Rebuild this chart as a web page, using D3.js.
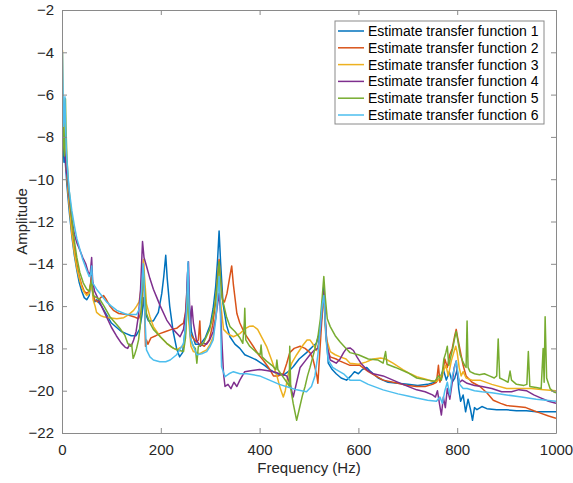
<!DOCTYPE html>
<html>
<head>
<meta charset="utf-8">
<script src="https://cdn.jsdelivr.net/npm/d3@7"></script>
<style>
  html, body { margin: 0; padding: 0; background: #fff; }
  svg { display: block; font-family: "Liberation Sans", Arial, Helvetica, sans-serif; }
</style>
</head>
<body>
<svg id="chart" width="573" height="483"></svg>
<script>
// Estimated transfer-function amplitude spectra, [frequency Hz, amplitude]
const series1 = [[1,-6.8],[2,-8.0],[4,-9.2],[5,-8.6],[7,-9.3],[10,-10.3],[15,-11.6],[20,-12.7],[25,-13.6],[30,-14.3],[35,-14.9],[40,-15.3],[45,-15.6],[50,-15.7],[55,-15.5],[58,-15.0],[60,-14.3],[62,-15.3],[66,-15.8],[70,-15.7],[80,-16.0],[90,-16.4],[100,-16.8],[110,-17.0],[120,-17.2],[130,-17.3],[140,-17.4],[150,-17.4],[157,-17.1],[162,-16.4],[165,-15.6],[168,-16.3],[175,-16.7],[185,-16.7],[195,-16.3],[202,-15.4],[206,-14.6],[210,-13.6],[213,-14.7],[218,-16.0],[225,-17.2],[232,-18.0],[238,-18.4],[244,-18.2],[250,-17.0],[253,-15.6],[255,-14.0],[257,-15.8],[262,-17.2],[270,-17.8],[280,-17.8],[290,-17.5],[300,-16.9],[306,-16.1],[311,-15.1],[315,-13.8],[318,-12.45],[321,-13.9],[326,-15.9],[333,-16.9],[340,-17.45],[350,-17.8],[360,-18.0],[370,-18.3],[380,-18.4],[394,-18.55],[410,-18.8],[421,-19.0],[435,-19.2],[448,-19.26],[458,-19.1],[468,-18.87],[480,-18.5],[495,-18.2],[508,-17.9],[515,-17.76],[522,-17.2],[527,-16.2],[530,-15.0],[533,-16.8],[539,-18.7],[547,-19.0],[555,-19.2],[565,-19.4],[576,-19.5],[585,-19.3],[592,-19.1],[600,-19.2],[608,-19.0],[617,-18.9],[625,-19.1],[640,-19.4],[660,-19.6],[680,-19.65],[700,-19.7],[720,-19.75],[740,-19.7],[755,-19.6],[765,-19.4],[772,-19.0],[778,-19.5],[784,-19.1],[790,-19.6],[795,-19.4],[800,-19.0],[803,-19.9],[807,-20.5],[812,-20.2],[817,-21.0],[822,-20.4],[827,-20.9],[831,-21.4],[835,-20.8],[840,-20.9],[850,-20.75],[860,-20.85],[880,-20.9],[900,-20.9],[920,-20.95],[940,-20.95],[960,-21.0],[980,-21.0],[1000,-21.0]];

const series2 = [[1,-6.3],[2,-7.5],[4,-8.5],[6,-8.2],[8,-9.2],[10,-9.9],[15,-11.2],[20,-12.4],[25,-13.3],[30,-14.0],[35,-14.6],[40,-15.0],[45,-15.3],[50,-15.4],[55,-15.3],[58,-14.9],[60,-14.6],[62,-15.3],[66,-15.7],[72,-15.8],[78,-15.6],[84,-15.5],[90,-15.7],[97,-16.0],[104,-16.2],[115,-16.35],[131,-16.4],[145,-16.5],[155,-16.6],[160,-16.3],[163,-15.2],[165,-14.0],[167,-15.8],[169,-17.9],[171,-17.6],[174,-17.8],[180,-17.5],[190,-17.4],[198,-17.3],[210,-17.2],[222,-17.1],[232,-17.05],[240,-16.9],[246,-16.8],[250,-16.3],[253,-15.3],[255,-14.6],[257,-16.2],[260,-17.3],[265,-17.5],[272,-17.7],[276,-17.6],[279,-16.7],[281,-17.8],[288,-17.9],[298,-17.6],[305,-16.9],[311,-15.8],[315,-14.6],[318,-13.8],[321,-14.8],[325,-15.7],[329,-15.8],[334,-15.4],[339,-14.7],[343.5,-14.1],[347,-15.0],[354,-16.35],[360,-16.8],[370,-17.3],[387,-17.9],[398,-18.3],[407,-18.55],[418,-18.9],[428,-19.3],[438,-19.3],[448,-19.2],[455,-18.7],[461,-18.2],[470,-18.0],[482,-17.9],[492,-18.0],[502,-18.2],[508,-18.5],[512,-18.9],[516,-19.3],[518,-19.65],[521,-18.5],[525,-17.0],[529,-15.6],[531,-15.9],[534,-17.4],[538,-18.1],[543,-18.4],[555,-18.5],[563,-18.6],[583,-18.8],[603,-18.8],[620,-19.1],[650,-19.5],[680,-19.65],[700,-19.75],[718,-19.8],[735,-19.8],[750,-19.7],[758,-19.6],[762,-18.8],[765,-19.6],[770,-19.3],[775,-18.5],[780,-18.9],[785,-18.3],[790,-18.0],[795,-17.4],[798,-17.1],[801,-17.5],[806,-18.1],[812,-18.8],[818,-19.3],[830,-19.6],[846,-19.8],[860,-20.1],[873,-20.45],[888,-20.6],[900,-20.7],[920,-20.75],[939,-20.8],[955,-20.95],[967,-21.05],[985,-21.2],[1000,-21.3]];

const series3 = [[1,-3.9],[2,-6.0],[3,-7.6],[5,-8.4],[7,-8.0],[9,-9.5],[12,-10.5],[15,-11.3],[20,-12.6],[25,-13.5],[30,-14.2],[35,-14.7],[40,-15.1],[45,-15.35],[50,-15.5],[55,-15.4],[58,-15.0],[60,-14.9],[63,-15.7],[67,-16.0],[70,-16.3],[78,-16.45],[84,-16.5],[95,-16.55],[111,-16.6],[125,-16.55],[135,-16.4],[145,-16.2],[151,-16.0],[156,-15.8],[160,-15.2],[163,-14.3],[165,-13.8],[167,-14.6],[171,-15.9],[178,-16.5],[185,-16.97],[199,-17.45],[212,-17.76],[222,-17.95],[232,-18.07],[240,-17.95],[246,-17.9],[250,-17.3],[253,-16.2],[255,-15.2],[257,-16.8],[261,-17.9],[266,-18.15],[272,-18.2],[279,-18.25],[286,-18.15],[293,-18.07],[300,-17.8],[306,-17.45],[311,-16.5],[315,-15.4],[318,-14.5],[321,-15.8],[327,-17.1],[335,-17.3],[347,-17.45],[360,-17.3],[372,-17.05],[380,-16.95],[387,-16.94],[396,-17.1],[405,-17.5],[414,-17.9],[425,-18.6],[435,-19.3],[442,-19.9],[448,-20.3],[452,-20.0],[458,-19.2],[465,-18.7],[475,-18.3],[488,-17.84],[496,-17.6],[502,-17.6],[508,-17.8],[515,-18.1],[520,-17.8],[525,-16.6],[529,-15.5],[532,-16.5],[536,-17.6],[543,-18.15],[553,-18.3],[563,-18.4],[575,-18.5],[583,-18.7],[600,-18.75],[615,-18.65],[630,-18.5],[645,-18.45],[655,-18.5],[670,-18.7],[690,-19.0],[705,-19.2],[718,-19.34],[735,-19.45],[750,-19.55],[760,-19.55],[770,-19.2],[777,-18.8],[782,-19.3],[788,-18.6],[793,-18.2],[797,-17.9],[800,-18.2],[804,-18.9],[808,-19.3],[812,-19.1],[818,-19.4],[830,-19.5],[846,-19.5],[870,-19.7],[900,-19.9],[925,-19.9],[950,-19.9],[975,-19.95],[1000,-20.0]];

const series4 = [[1,-7.0],[2,-7.6],[4,-8.5],[6,-8.8],[9,-9.6],[12,-10.2],[15,-10.9],[20,-11.9],[25,-12.6],[30,-13.0],[36,-13.35],[42,-13.7],[48,-14.0],[53,-14.4],[57,-14.5],[60,-13.7],[62,-14.8],[66,-15.3],[72,-15.6],[80,-16.0],[90,-16.5],[100,-17.0],[110,-17.4],[120,-17.75],[128,-17.95],[133,-18.0],[137,-17.8],[140,-17.9],[145,-17.6],[150,-17.2],[155,-16.4],[159,-15.2],[163,-12.95],[166,-13.7],[171,-14.1],[178,-14.7],[185,-15.2],[192,-15.6],[199,-16.0],[212,-16.66],[225,-17.1],[239,-17.45],[246,-17.1],[251,-16.2],[254,-14.5],[256,-13.9],[258,-15.8],[260,-17.0],[263,-16.0],[266,-16.8],[272,-17.6],[280,-17.9],[286,-17.76],[293,-17.8],[299,-17.6],[306,-17.2],[311,-16.6],[315,-15.9],[318,-15.4],[321,-16.3],[324,-17.8],[327,-19.2],[330,-19.8],[336,-19.7],[342,-19.9],[348,-19.6],[354,-19.8],[360,-19.5],[370,-19.1],[385,-19.05],[400,-19.0],[414,-19.05],[428,-19.1],[441,-19.2],[455,-19.3],[462,-19.7],[468,-20.3],[473,-19.8],[482,-18.9],[492,-18.6],[502,-18.3],[510,-18.1],[518,-18.0],[524,-17.0],[528,-15.8],[530,-15.3],[532,-16.2],[536,-17.8],[543,-18.55],[555,-18.7],[563,-18.5],[570,-18.2],[576,-18.0],[583,-17.98],[590,-18.1],[597,-18.4],[605,-18.7],[617,-19.0],[630,-19.2],[650,-19.3],[670,-19.5],[690,-19.7],[718,-19.96],[735,-20.05],[750,-20.2],[756,-20.3],[760,-20.0],[764,-20.6],[768,-21.15],[772,-20.3],[776,-20.8],[780,-19.9],[785,-20.4],[790,-19.6],[794,-18.9],[798,-18.6],[801,-19.3],[805,-19.6],[810,-19.5],[820,-19.65],[835,-19.75],[850,-19.8],[870,-19.9],[890,-20.05],[910,-20.05],[925,-19.95],[940,-20.0],[955,-20.2],[970,-20.35],[985,-20.5],[1000,-20.6]];

const series5 = [[1,-6.2],[2,-7.3],[3,-8.3],[5,-8.9],[7,-6.2],[8,-7.5],[10,-9.0],[13,-10.2],[16,-10.9],[20,-11.9],[25,-12.9],[30,-13.7],[36,-14.4],[43,-14.9],[50,-15.2],[55,-15.3],[58,-15.0],[60,-14.8],[63,-15.5],[70,-15.6],[77,-15.7],[85,-16.0],[97,-16.5],[108,-16.8],[117,-17.05],[127,-17.37],[133,-17.76],[138,-17.9],[141,-17.8],[144,-18.47],[147,-18.3],[151,-18.0],[155,-17.6],[158,-17.0],[161,-16.0],[163,-15.0],[165,-14.3],[167,-15.2],[171,-16.35],[178,-16.8],[185,-17.1],[199,-17.45],[212,-17.76],[226,-18.0],[238,-18.1],[246,-18.15],[250,-17.5],[253,-16.2],[255,-14.6],[257,-16.5],[261,-17.6],[266,-17.9],[270,-18.0],[273,-18.7],[276,-17.9],[286,-17.76],[299,-17.1],[304,-16.6],[309,-16.0],[314,-15.0],[318,-13.9],[321,-14.8],[324,-15.6],[327,-15.9],[333,-16.5],[340,-16.97],[350,-17.2],[360,-17.5],[366,-17.76],[369,-16.8],[370,-16.1],[372,-17.6],[380,-17.9],[394,-18.2],[401,-18.3],[403,-17.84],[405,-18.4],[414,-18.6],[425,-18.8],[433,-19.0],[435,-18.55],[437,-19.0],[446,-19.3],[455,-19.6],[460,-19.8],[461,-17.9],[463,-19.9],[468,-20.6],[475,-21.4],[480,-20.9],[487,-20.2],[492,-19.8],[497,-19.3],[502,-18.9],[510,-18.2],[518,-17.45],[523,-16.6],[527,-15.5],[530,-14.6],[533,-15.6],[537,-16.6],[543,-16.97],[553,-17.4],[563,-17.7],[575,-18.0],[583,-18.2],[600,-18.3],[620,-18.5],[640,-18.55],[650,-18.7],[655,-18.15],[658,-18.75],[675,-18.9],[700,-19.15],[718,-19.4],[740,-19.5],[755,-19.55],[762,-19.3],[768,-19.5],[773,-18.5],[777,-18.2],[780,-17.9],[783,-18.8],[787,-18.4],[791,-18.0],[795,-17.5],[798,-17.2],[801,-17.6],[806,-18.3],[811,-18.6],[815,-18.8],[818,-18.9],[820,-16.7],[822,-18.9],[826,-19.1],[835,-19.2],[845,-19.25],[855,-19.2],[865,-19.3],[875,-19.4],[880,-19.3],[883,-17.55],[886,-19.4],[895,-19.5],[903,-19.6],[907,-19.07],[910,-19.5],[920,-19.7],[935,-19.75],[941,-19.7],[944,-18.15],[947,-19.8],[960,-19.85],[970,-19.9],[974,-18.0],[976,-19.6],[978,-16.5],[981,-19.4],[988,-19.9],[995,-20.05],[1000,-20.1]];

const series6 = [[1,-4.0],[2,-5.5],[3,-7.5],[5,-7.0],[6,-6.1],[7,-7.3],[9,-8.8],[12,-9.8],[15,-10.6],[20,-11.5],[25,-12.2],[30,-12.8],[36,-13.3],[42,-13.8],[50,-14.3],[55,-14.6],[58,-14.5],[60,-14.1],[62,-14.9],[70,-15.2],[80,-15.5],[90,-15.8],[100,-16.0],[111,-16.2],[121,-16.3],[131,-16.4],[141,-16.4],[151,-16.4],[157,-16.1],[161,-15.3],[164,-14.0],[166,-14.7],[168,-16.6],[171,-18.07],[178,-18.4],[185,-18.55],[198,-18.63],[210,-18.63],[219,-18.55],[232,-18.3],[240,-18.0],[246,-17.76],[250,-17.0],[253,-15.8],[255,-13.9],[257,-15.9],[260,-17.5],[264,-17.8],[273,-18.3],[283,-18.25],[293,-18.15],[300,-17.9],[306,-17.6],[311,-16.7],[315,-15.6],[318,-14.6],[320,-15.6],[323,-18.87],[330,-19.34],[338,-19.2],[347,-19.1],[360,-19.2],[374,-19.2],[387,-19.25],[400,-19.3],[420,-19.5],[440,-19.7],[460,-19.85],[475,-19.96],[495,-20.05],[505,-19.8],[512,-19.3],[518,-18.3],[523,-17.0],[527,-15.9],[530,-15.5],[532,-16.3],[535,-17.7],[539,-18.55],[548,-18.9],[555,-19.0],[570,-19.2],[583,-19.5],[603,-19.5],[620,-19.7],[650,-19.96],[680,-20.15],[700,-20.25],[718,-20.35],[740,-20.45],[758,-20.5],[765,-20.3],[770,-20.6],[775,-20.0],[780,-19.6],[785,-20.2],[790,-19.3],[795,-18.9],[798,-18.6],[801,-19.1],[805,-19.7],[812,-19.9],[820,-19.9],[835,-20.0],[850,-20.05],[870,-20.1],[900,-20.2],[930,-20.3],[960,-20.4],[1000,-20.5]];

const seriesNames = ["Estimate transfer function 1", "Estimate transfer function 2", "Estimate transfer function 3",
                     "Estimate transfer function 4", "Estimate transfer function 5", "Estimate transfer function 6"];
const seriesColors = ["#0072BD", "#D95319", "#EDB120", "#7E2F8E", "#77AC30", "#4DBEEE"];
const xTicks = [0, 200, 400, 600, 800, 1000];
const yTicks = [-2, -4, -6, -8, -10, -12, -14, -16, -18, -20, -22];

const allSeries = [series1, series2, series3, series4, series5, series6];

const svg = d3.select("#chart");
const margin = { left: 62, top: 10, right: 17, bottom: 50 };
const W = 573, H = 483;
const plotW = W - margin.left - margin.right;
const plotH = H - margin.top - margin.bottom;

const x = d3.scaleLinear().domain([0, 1000]).range([0, plotW]);
const y = d3.scaleLinear().domain([-22, -2]).range([plotH, 0]);

const g = svg.append("g").attr("transform", `translate(${margin.left},${margin.top})`);

g.append("defs").append("clipPath").attr("id", "plot-clip")
  .append("rect").attr("width", plotW).attr("height", plotH);

// Lines
const line = d3.line().x(d => x(d[0])).y(d => y(d[1]));
const lines = g.append("g").attr("clip-path", "url(#plot-clip)");
allSeries.forEach((s, i) => {
  lines.append("path")
    .datum(s)
    .attr("fill", "none")
    .attr("stroke", seriesColors[i])
    .attr("stroke-width", 1.5)
    .attr("stroke-linejoin", "round")
    .attr("d", line);
});

// Axes (ticks pointing inward on all four sides)
const axisColor = "#8a8a8a";
const tickLen = 5;
function styleAxis(sel) {
  sel.select(".domain").attr("stroke", axisColor);
  sel.selectAll(".tick line").attr("stroke", axisColor);
  sel.selectAll(".tick text").attr("fill", "#262626").style("font-size", "15px");
}

g.append("g").attr("transform", `translate(0,${plotH})`)
  .call(d3.axisBottom(x).tickValues(xTicks).tickFormat(d3.format("d"))
    .tickSizeInner(-tickLen).tickSizeOuter(0).tickPadding(11))
  .call(styleAxis);
g.append("g")
  .call(d3.axisTop(x).tickValues(xTicks).tickSizeInner(-tickLen).tickSizeOuter(0).tickFormat(""))
  .call(styleAxis);
g.append("g")
  .call(d3.axisLeft(y).tickValues(yTicks).tickFormat(d3.format("d"))
    .tickSizeInner(-tickLen).tickSizeOuter(0).tickPadding(8))
  .call(styleAxis);
g.append("g").attr("transform", `translate(${plotW},0)`)
  .call(d3.axisRight(y).tickValues(yTicks).tickSizeInner(-tickLen).tickSizeOuter(0).tickFormat(""))
  .call(styleAxis);

// Axis titles
svg.append("text")
  .attr("x", margin.left + plotW / 2).attr("y", 473)
  .attr("text-anchor", "middle").attr("fill", "#262626").style("font-size", "15px")
  .text("Frequency (Hz)");
svg.append("text")
  .attr("transform", `translate(27,${margin.top + plotH / 2}) rotate(-90)`)
  .attr("text-anchor", "middle").attr("fill", "#262626").style("font-size", "15px")
  .text("Amplitude");

// Legend
const legend = svg.append("g").attr("transform", "translate(335,21)");
legend.append("rect").attr("width", 209).attr("height", 103)
  .attr("fill", "#fff").attr("stroke", "#8a8a8a").attr("stroke-width", 1);
seriesNames.forEach((name, i) => {
  const ry = 10 + i * 16.8;
  legend.append("line").attr("x1", 3).attr("x2", 29).attr("y1", ry).attr("y2", ry)
    .attr("stroke", seriesColors[i]).attr("stroke-width", 1.5);
  legend.append("text").attr("x", 33).attr("y", ry).attr("dy", "0.35em")
    .attr("fill", "#000").style("font-size", "14px").text(name);
});
</script>
</body>
</html>
